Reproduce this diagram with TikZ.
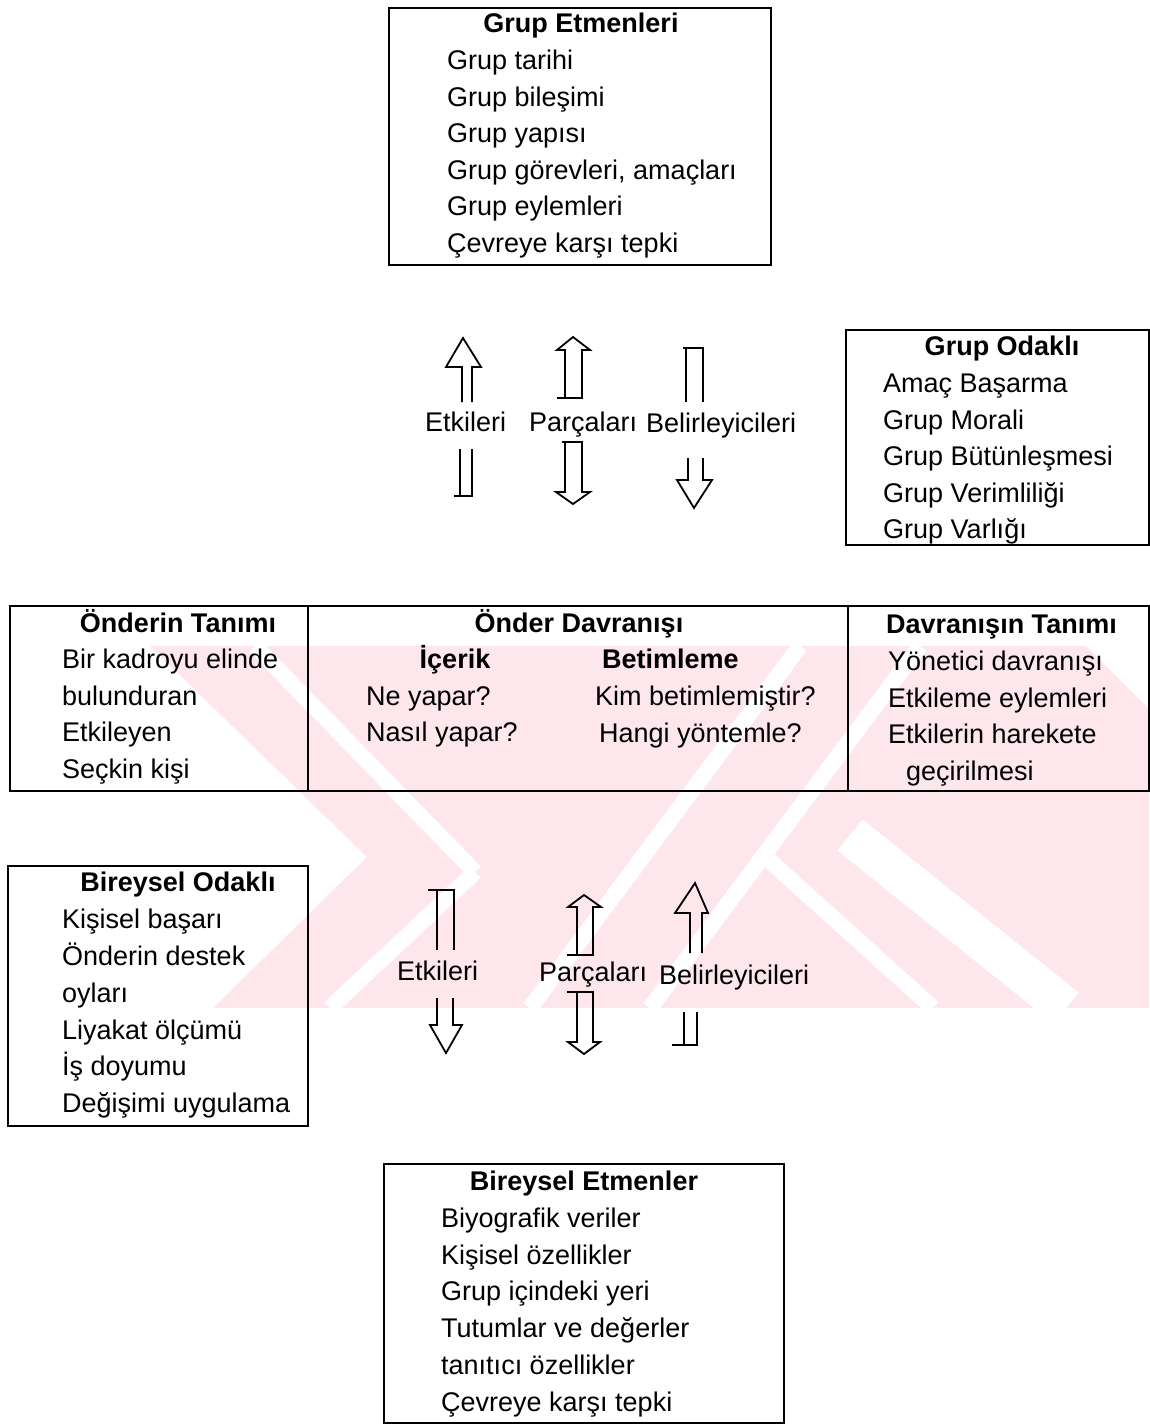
\documentclass[tikz,border=0pt]{standalone}
\usepackage{fontspec}
\setmainfont{Liberation Sans}
\begin{document}
\newcommand{\fs}{\fontsize{27}{32}\selectfont}
\definecolor{wmpink}{RGB}{253,231,236}
\begin{tikzpicture}[x=1pt,y=-1pt,
  box/.style={draw,line width=1.7pt,inner sep=0pt,anchor=north west},
  txt/.style={anchor=base west,inner sep=0pt,font=\fs},
  ttl/.style={anchor=base,inner sep=0pt,font=\fs\bfseries},
  hollow/.style={draw,line width=1.8pt,line join=miter,line cap=butt},
  gap/.style={white,line width=16pt,line cap=butt}]
\useasboundingbox (0,0) rectangle (1149,1424);

% faint watermark behind the middle of the page
\begin{scope}
  \clip (0,646) rectangle (1149,1008);
  \fill[wmpink] (150,646) -- (1086,646) -- (1149,709) -- (1149,1008)
                -- (213,1008) -- (367,857) -- cycle;
  \draw[gap] (255,646) -- (475,872);
  \draw[gap] (475,872) -- (330,1008);
  \draw[gap] (530,1008) -- (800,646);
  \draw[gap] (650,1008) -- (920,646);
  \draw[gap] (760,852) -- (933,1008);
  \draw[gap,line width=40pt] (850,835) -- (1066,1008);
\end{scope}

% ---- Grup Etmenleri ----
\node[box,minimum width=382pt,minimum height=257pt] (ge) at (388,7) {};
\node[ttl] (geT) at (581,32) {Grup Etmenleri};
\node[txt] (ge1) at (447,69.5) {Grup tarihi};
\node[txt] (ge2) at (447,106) {Grup bileşimi};
\node[txt] (ge3) at (447,142.5) {Grup yapısı};
\node[txt] (ge4) at (447,179) {Grup görevleri, amaçları};
\node[txt] (ge5) at (447,215.5) {Grup eylemleri};
\node[txt] (ge6) at (447,252) {Çevreye karşı tepki};

% ---- Grup Odaklı ----
\node[box,minimum width=303pt,minimum height=215pt] (go) at (845,329) {};
\node[ttl] (goT) at (1002,355) {Grup Odaklı};
\node[txt] (go1) at (883,392.5) {Amaç Başarma};
\node[txt] (go2) at (883,429) {Grup Morali};
\node[txt] (go3) at (883,465.5) {Grup Bütünleşmesi};
\node[txt] (go4) at (883,502) {Grup Verimliliği};
\node[txt] (go5) at (883,538.5) {Grup Varlığı};

% ---- central band with three cells ----
\node[box,minimum width=1139pt,minimum height=185pt] (od) at (9,605) {};
\draw[line width=1.7pt] (od.north west -| 308,0) -- (od.south west -| 308,0);
\draw[line width=1.7pt] (od.north west -| 848,0) -- (od.south west -| 848,0);
\node[ttl] (otT) at (178,632) {Önderin Tanımı};
\node[txt] (ot1) at (62,668.5) {Bir kadroyu elinde};
\node[txt] (ot2) at (62,705) {bulunduran};
\node[txt] (ot3) at (62,741.5) {Etkileyen};
\node[txt] (ot4) at (62,778) {Seçkin kişi};
\node[ttl] (odT) at (579,632) {Önder Davranışı};
\node[ttl] (odA) at (455,668.5) {İçerik};
\node[txt,font=\fs\bfseries] (odB) at (602,668.5) {Betimleme};
\node[txt] (od1) at (366,705) {Ne yapar?};
\node[txt] (od2) at (366,741.5) {Nasıl yapar?};
\node[txt] (od3) at (595,705.5) {Kim betimlemiştir?};
\node[txt] (od4) at (599,742) {Hangi yöntemle?};
\node[txt,font=\fs\bfseries] (dtT) at (886,633.5) {Davranışın Tanımı};
\node[txt] (dt1) at (888,670.5) {Yönetici davranışı};
\node[txt] (dt2) at (888,707) {Etkileme eylemleri};
\node[txt] (dt3) at (888,743.5) {Etkilerin harekete};
\node[txt] (dt4) at (906,780) {geçirilmesi};

% ---- Bireysel Odaklı ----
\node[box,minimum width=300pt,minimum height=260pt] (bo) at (7,865) {};
\node[ttl] (boT) at (178,891.5) {Bireysel Odaklı};
\node[txt] (bo1) at (62,928.5) {Kişisel başarı};
\node[txt] (bo2) at (62,965) {Önderin destek};
\node[txt] (bo3) at (62,1002) {oyları};
\node[txt] (bo4) at (62,1039) {Liyakat ölçümü};
\node[txt] (bo5) at (62,1075.5) {İş doyumu};
\node[txt] (bo6) at (62,1112.5) {Değişimi uygulama};

% ---- Bireysel Etmenler ----
\node[box,minimum width=400pt,minimum height=259pt] (be) at (383,1163) {};
\node[ttl] (beT) at (584,1190.5) {Bireysel Etmenler};
\node[txt] (be1) at (441,1227.5) {Biyografik veriler};
\node[txt] (be2) at (441,1264) {Kişisel özellikler};
\node[txt] (be3) at (441,1300.5) {Grup içindeki yeri};
\node[txt] (be4) at (441,1337.5) {Tutumlar ve değerler};
\node[txt] (be5) at (441,1374.5) {tanıtıcı özellikler};
\node[txt] (be6) at (441,1411.5) {Çevreye karşı tepki};

% ---- upper arrow column labels ----
\node[txt] (uE) at (425,431) {Etkileri};
\node[txt] (uP) at (529,431) {Parçaları};
\node[txt] (uB) at (646,432) {Belirleyicileri};

% Etkileri: head on top
\draw[hollow] (462,402) -- (462,367) -- (446,367) -- (463,338) -- (481,367) -- (472,367) -- (472,402);
\draw[hollow] (460,449) -- (460,496) (454,496) -- (472,496) -- (472,449);
% Parçaları: heads at both ends
\draw[hollow] (565,398) -- (565,350) -- (557,350) -- (573,337) -- (590,350) -- (582,350) -- (582,398) -- (557,398);
\draw[hollow] (562,442) -- (582,442) -- (582,492) -- (590,492) -- (573,504) -- (556,492) -- (565,492) -- (565,442);
% Belirleyicileri: head at the bottom
\draw[hollow] (683,348) -- (703,348) -- (703,402) (686,348) -- (686,402);
\draw[hollow] (688,458) -- (688,480) -- (677,480) -- (694,508) -- (712,480) -- (703,480) -- (703,458);

% ---- lower arrow column labels ----
\node[txt] (lE) at (397,980) {Etkileri};
\node[txt] (lP) at (539,981) {Parçaları};
\node[txt] (lB) at (659,984) {Belirleyicileri};

% Etkileri: head at the bottom
\draw[hollow] (428,890) -- (454,890) -- (454,950) (437,890) -- (437,950);
\draw[hollow] (437,998) -- (437,1025) -- (430,1025) -- (446,1053) -- (462,1025) -- (453,1025) -- (453,998);
% Parçaları: heads at both ends
\draw[hollow] (577,955) -- (577,907) -- (568,907) -- (584,895) -- (601,907) -- (593,907) -- (593,955) -- (567,955);
\draw[hollow] (567,992) -- (593,992) -- (593,1042) -- (600,1042) -- (584,1054) -- (568,1042) -- (577,1042) -- (577,992);
% Belirleyicileri: head on top
\draw[hollow] (690,953) -- (690,913) -- (675,913) -- (695,883) -- (708,913) -- (702,913) -- (702,953);
\draw[hollow] (684,1012) -- (684,1045) (672,1045) -- (697,1045) -- (697,1012);
\end{tikzpicture}
\end{document}
